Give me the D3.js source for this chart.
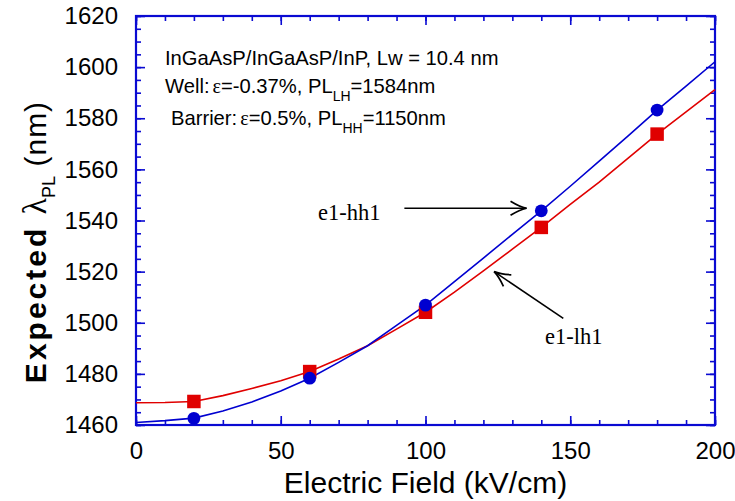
<!DOCTYPE html>
<html>
<head>
<meta charset="utf-8">
<script src="https://cdn.jsdelivr.net/npm/d3@7/dist/d3.min.js"></script>
<style>
  html, body { margin: 0; padding: 0; background: #fff; }
  svg { display: block; font-family: Arial, "Liberation Sans", Helvetica, sans-serif; }
</style>
</head>
<body>
<svg id="chart" width="735" height="501"></svg>
<script>
// Electric field (kV/cm) sampled for the computed transition curves
const fieldGrid = [0, 10, 20, 30, 40, 50, 60, 70, 80, 90, 100, 110, 120, 130, 140, 150, 160, 170, 180, 190, 200];
// e1-hh1 computed PL wavelength (nm)
const hh1Curve = [1461.0, 1461.7, 1462.7, 1465.5, 1469.0, 1473.3, 1478.3, 1484.5, 1491.0, 1499.0, 1506.9, 1516.1, 1525.3, 1534.6, 1543.8, 1553.4, 1563.2, 1573.1, 1583.2, 1592.6, 1602.1];
// e1-lh1 computed PL wavelength (nm)
const lh1Curve = [1468.7, 1468.8, 1469.2, 1471.5, 1474.3, 1477.3, 1480.9, 1485.8, 1491.0, 1497.5, 1504.1, 1512.0, 1520.3, 1528.8, 1537.3, 1546.3, 1555.0, 1564.4, 1573.8, 1582.5, 1591.2];
// Marked points
const markField = [20, 60, 100, 140, 180];
const hh1Marks = [1462.6, 1478.3, 1506.9, 1543.8, 1583.2];
const lh1Marks = [1469.2, 1480.9, 1504.1, 1537.3, 1573.8];
// Axis ticks
const xMajorTicks = [0, 50, 100, 150, 200];
const yMajorTicks = [1460, 1480, 1500, 1520, 1540, 1560, 1580, 1600, 1620];

const axisBlue = "#0a0ad2";
const lineBlue = "#0000d0";
const lineRed = "#e00000";

const svg = d3.select("#chart");
const x = d3.scaleLinear().domain([0, 200]).range([136, 715]);
const y = d3.scaleLinear().domain([1460, 1620]).range([425, 16]);

const xMinor = d3.range(0, 201, 10);
const yMinor = d3.range(1460, 1621, 5);

function styleAxis(g) {
  g.select(".domain").remove();
  g.selectAll(".tick line").attr("stroke", axisBlue).attr("stroke-width", 1.6);
  g.selectAll(".tick text").attr("fill", "#000").attr("font-size", 24)
    .attr("font-family", "Arial, 'Liberation Sans', sans-serif");
}

// minor ticks on all four sides
svg.append("g").attr("transform", `translate(0,${y(1460)})`)
  .call(d3.axisBottom(x).tickValues(xMinor).tickSize(-5).tickFormat("")).call(styleAxis);
svg.append("g").attr("transform", `translate(0,${y(1620)})`)
  .call(d3.axisTop(x).tickValues(xMinor).tickSize(-5).tickFormat("")).call(styleAxis);
svg.append("g").attr("transform", `translate(${x(0)},0)`)
  .call(d3.axisLeft(y).tickValues(yMinor).tickSize(-5).tickFormat("")).call(styleAxis);
svg.append("g").attr("transform", `translate(${x(200)},0)`)
  .call(d3.axisRight(y).tickValues(yMinor).tickSize(-5).tickFormat("")).call(styleAxis);

// major ticks with labels
svg.append("g").attr("transform", `translate(0,${y(1460)})`)
  .call(d3.axisBottom(x).tickValues(xMajorTicks).tickSize(-9).tickPadding(17).tickFormat(d3.format("d")))
  .call(styleAxis);
svg.append("g").attr("transform", `translate(0,${y(1620)})`)
  .call(d3.axisTop(x).tickValues(xMajorTicks).tickSize(-9).tickFormat("")).call(styleAxis);
svg.append("g").attr("transform", `translate(${x(0)},0)`)
  .call(d3.axisLeft(y).tickValues(yMajorTicks).tickSize(-9).tickPadding(18).tickFormat(d3.format("d")))
  .call(styleAxis);
svg.append("g").attr("transform", `translate(${x(200)},0)`)
  .call(d3.axisRight(y).tickValues(yMajorTicks).tickSize(-9).tickFormat("")).call(styleAxis);

// plot frame
svg.append("rect")
  .attr("x", x(0)).attr("y", y(1620))
  .attr("width", x(200) - x(0)).attr("height", y(1460) - y(1620))
  .attr("fill", "none").attr("stroke", axisBlue).attr("stroke-width", 2.2);

// curves
const line = d3.line().x((d, i) => x(fieldGrid[i])).y(d => y(d)).curve(d3.curveLinear);
svg.append("path").datum(lh1Curve).attr("d", line)
  .attr("fill", "none").attr("stroke", lineRed).attr("stroke-width", 1.6);
svg.append("path").datum(hh1Curve).attr("d", line)
  .attr("fill", "none").attr("stroke", lineBlue).attr("stroke-width", 1.6);

// markers
const sq = 13.5;
svg.append("g").selectAll("rect").data(lh1Marks).join("rect")
  .attr("x", (d, i) => x(markField[i]) - sq / 2)
  .attr("y", d => y(d) - sq / 2)
  .attr("width", sq).attr("height", sq)
  .attr("fill", lineRed);
svg.append("g").selectAll("circle").data(hh1Marks).join("circle")
  .attr("cx", (d, i) => x(markField[i]))
  .attr("cy", d => y(d))
  .attr("r", 6.4)
  .attr("fill", lineBlue);

// arrowhead
svg.append("defs").append("marker")
  .attr("id", "arrowhead")
  .attr("viewBox", "-18 -9 20 18")
  .attr("refX", 0).attr("refY", 0)
  .attr("markerUnits", "userSpaceOnUse")
  .attr("markerWidth", 20).attr("markerHeight", 18)
  .attr("orient", "auto")
  .append("path")
  .attr("d", "M-16,-7 Q-7,-1.5 0,0 Q-7,1.5 -16,7")
  .attr("fill", "none").attr("stroke", "#000").attr("stroke-width", 1.7);

// band labels with pointer arrows
svg.append("line")
  .attr("x1", x(92.7)).attr("y1", y(1544.8))
  .attr("x2", x(134.9)).attr("y2", y(1544.8))
  .attr("stroke", "#000").attr("stroke-width", 1.6)
  .attr("marker-end", "url(#arrowhead)");
svg.append("text").attr("x", x(62.9)).attr("y", y(1540.2))
  .attr("font-family", "'Liberation Serif', 'Times New Roman', serif").attr("font-size", 22.5)
  .text("e1-hh1");

svg.append("line")
  .attr("x1", x(147.6)).attr("y1", y(1501.7))
  .attr("x2", x(123.7)).attr("y2", y(1520.0))
  .attr("stroke", "#000").attr("stroke-width", 1.6)
  .attr("marker-end", "url(#arrowhead)");
svg.append("text").attr("x", x(141.3)).attr("y", y(1491.7))
  .attr("font-family", "'Liberation Serif', 'Times New Roman', serif").attr("font-size", 22.5)
  .text("e1-lh1");

// structure description
const info = svg.append("g").attr("font-size", 20.2).attr("fill", "#000");
info.append("text").attr("x", 165).attr("y", 65)
  .text("InGaAsP/InGaAsP/InP, Lw = 10.4 nm");
const l2 = info.append("text").attr("x", 165).attr("y", 93);
l2.append("tspan").text("Well:");
l2.append("tspan").attr("font-family", "'Liberation Serif', serif").attr("dx", 3).text("ε");
l2.append("tspan").text("=-0.37%, PL");
l2.append("tspan").attr("font-size", 14).attr("dy", 8).text("LH");
l2.append("tspan").attr("dy", -8).text("=1584nm");
const l3 = info.append("text").attr("x", 171).attr("y", 125);
l3.append("tspan").text("Barrier:");
l3.append("tspan").attr("font-family", "'Liberation Serif', serif").attr("dx", 3).text("ε");
l3.append("tspan").text("=0.5%, PL");
l3.append("tspan").attr("font-size", 14).attr("dy", 8).text("HH");
l3.append("tspan").attr("dy", -8).text("=1150nm");

// axis titles
svg.append("text")
  .attr("x", (x(0) + x(200)) / 2).attr("y", 493)
  .attr("text-anchor", "middle").attr("font-size", 30)
  .text("Electric Field (kV/cm)");

const yt = svg.append("text")
  .attr("transform", `translate(46,242) rotate(-90)`)
  .attr("text-anchor", "middle").attr("font-size", 30);
yt.append("tspan").attr("font-weight", "bold").attr("letter-spacing", 3).text("Expected ");
yt.append("tspan").attr("font-family", "'Liberation Serif', serif").attr("font-size", 34).text("λ");
yt.append("tspan").attr("font-size", 18).attr("dy", 9).text("PL");
yt.append("tspan").attr("dy", -9).attr("letter-spacing", 1).text(" (nm)");
</script>
</body>
</html>
